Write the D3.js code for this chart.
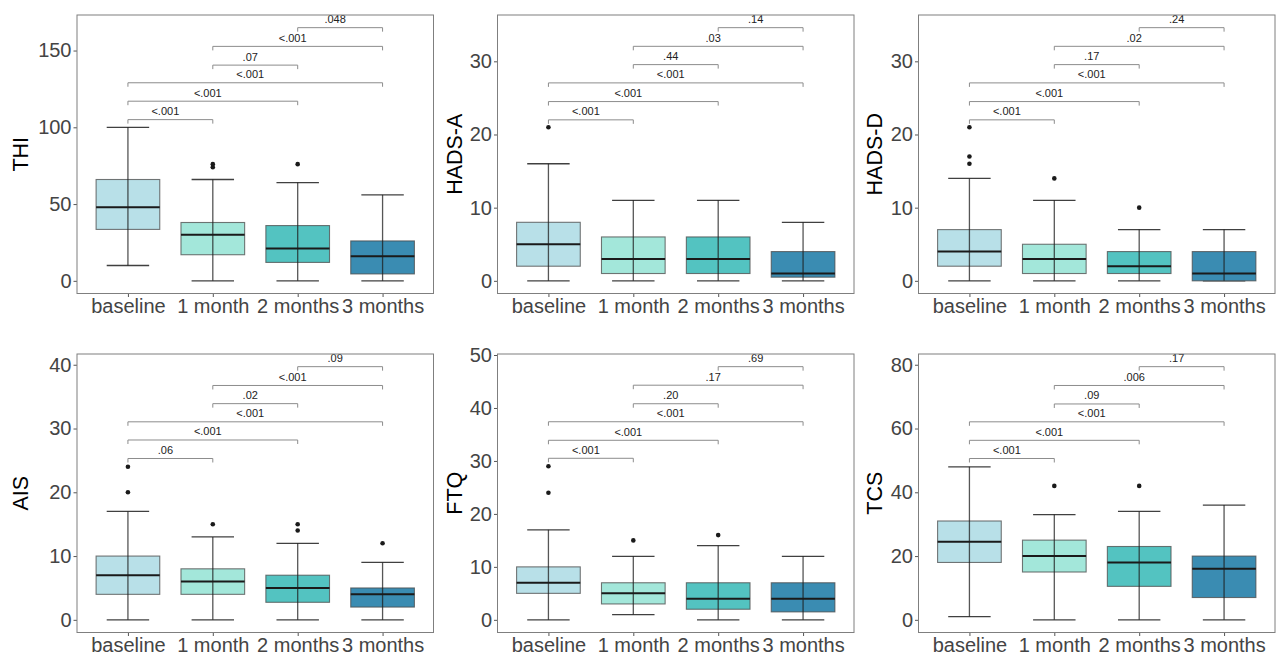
<!DOCTYPE html>
<html>
<head>
<meta charset="utf-8">
<script src="https://cdn.jsdelivr.net/npm/d3@7"></script>
<style>
  html, body { margin: 0; padding: 0; background: #fff; }
  svg { display: block; font-family: "Liberation Sans", Arial, sans-serif; }
</style>
</head>
<body>
<svg id="chart" width="1284" height="655"></svg>
<script>
// ---------------- DATA ----------------
const categories = ["baseline", "1 month", "2 months", "3 months"];
const comparisons = [[0, 1], [0, 2], [0, 3], [1, 2], [1, 3], [2, 3]];

// box stats per category: [lower whisker, Q1, median, Q3, upper whisker]
const thiStats   = [[10, 33.5, 48, 66, 100], [0, 17, 30, 38, 66], [0, 12, 21, 36, 64], [0, 4.5, 16, 26, 56]];
const thiOutliers = [[], [74, 76], [76], []];
const thiPvalues = ["<.001", "<.001", "<.001", ".07", "<.001", ".048"];
const thiBracketY = [105, 117, 129, 140.5, 152.7, 164.9];
const thiTicks = [0, 50, 100, 150];

const hadsAStats = [[0, 2, 5, 8, 16], [0, 1, 3, 6, 11], [0, 1, 3, 6, 11], [0, 0.5, 1, 4, 8]];
const hadsAOutliers = [[21], [], [], []];
const hadsAPvalues = ["<.001", "<.001", "<.001", ".44", ".03", ".14"];
const hadsABracketY = [22, 24.5, 27.05, 29.55, 32.05, 34.6];
const hadsATicks = [0, 10, 20, 30];

const hadsDStats = [[0, 2, 4, 7, 14], [0, 1, 3, 5, 11], [0, 1, 2, 4, 7], [0, 0, 1, 4, 7]];
const hadsDOutliers = [[16, 17, 21], [14], [10], []];
const hadsDPvalues = ["<.001", "<.001", "<.001", ".17", ".02", ".24"];
const hadsDBracketY = [22, 24.5, 27.05, 29.55, 32.05, 34.6];
const hadsDTicks = [0, 10, 20, 30];

const aisStats = [[0, 4, 7, 10, 17], [0, 4, 6, 8, 13], [0, 2.75, 5, 7, 12], [0, 2, 4, 5, 9]];
const aisOutliers = [[20, 24], [15], [14, 15], [12]];
const aisPvalues = [".06", "<.001", "<.001", ".02", "<.001", ".09"];
const aisBracketY = [25.3, 28.2, 31.05, 33.9, 36.75, 39.7];
const aisTicks = [0, 10, 20, 30, 40];

const ftqStats = [[0, 5, 7, 10, 17], [1, 3, 5, 7, 12], [0, 2, 4, 7, 14], [0, 1.5, 4, 7, 12]];
const ftqOutliers = [[24, 29], [15], [16], []];
const ftqPvalues = ["<.001", "<.001", "<.001", ".20", ".17", ".69"];
const ftqBracketY = [30.5, 33.9, 37.4, 40.8, 44.3, 47.8];
const ftqTicks = [0, 10, 20, 30, 40, 50];

const tcsStats = [[1, 18, 24.5, 31, 48], [0, 15, 20, 25, 33], [0, 10.5, 18, 23, 34], [0, 7, 16, 20, 36]];
const tcsOutliers = [[], [42], [42], []];
const tcsPvalues = ["<.001", "<.001", "<.001", ".09", ".006", ".17"];
const tcsBracketY = [50.6, 56.3, 62.1, 67.7, 73.5, 79.4];
const tcsTicks = [0, 20, 40, 60, 80];

const panelTitles = ["THI", "HADS-A", "HADS-D", "AIS", "FTQ", "TCS"];

// ---------------- STYLE / LAYOUT ----------------
const fillColors = ["#b8e0e8", "#a3e7da", "#53c3c1", "#3a8cb2"];
const colLefts = [77, 497.5, 918.5];
const titleOffset = [49, 35.5, 36.5];
const panelW = 356.5;
const rowTops = [15, 354];
const panelH = 278.5;

const panels = [
  { title: panelTitles[0], stats: thiStats, out: thiOutliers, p: thiPvalues, by: thiBracketY, ticks: thiTicks },
  { title: panelTitles[1], stats: hadsAStats, out: hadsAOutliers, p: hadsAPvalues, by: hadsABracketY, ticks: hadsATicks },
  { title: panelTitles[2], stats: hadsDStats, out: hadsDOutliers, p: hadsDPvalues, by: hadsDBracketY, ticks: hadsDTicks },
  { title: panelTitles[3], stats: aisStats, out: aisOutliers, p: aisPvalues, by: aisBracketY, ticks: aisTicks },
  { title: panelTitles[4], stats: ftqStats, out: ftqOutliers, p: ftqPvalues, by: ftqBracketY, ticks: ftqTicks },
  { title: panelTitles[5], stats: tcsStats, out: tcsOutliers, p: tcsPvalues, by: tcsBracketY, ticks: tcsTicks },
];

const svg = d3.select("#chart");

panels.forEach((pd, i) => {
  const col = i % 3, row = Math.floor(i / 3);
  const left = colLefts[col], top = rowTops[row];
  const g = svg.append("g").attr("transform", `translate(${left},${top})`);

  // y domain like ggplot: data range expanded 5%
  const allVals = [...pd.stats.flat(), ...pd.out.flat(), ...pd.by];
  const lo = Math.min(0, d3.min(allVals)), hi = d3.max(allVals);
  const pad = (hi - lo) * 0.05;
  const y = d3.scaleLinear().domain([lo - pad, hi + pad]).range([panelH, 0]);

  // x: 4 categories, 0.6 expansion each side
  const x = d3.scalePoint().domain(categories).range([0, panelW]).padding(0.6);
  const step = x.step();
  const boxW = step * 0.75, capW = step * 0.5;

  // axes
  const yAxis = d3.axisLeft(y).tickValues(pd.ticks).tickSize(3.5).tickPadding(2);
  const ya = g.append("g").call(yAxis);
  ya.select(".domain").remove();
  ya.selectAll(".tick line").attr("stroke", "#555");
  ya.selectAll(".tick text").attr("fill", "#444").style("font-size", "20px")
    .attr("font-family", "'Liberation Sans', Arial, sans-serif");

  const xAxis = d3.axisBottom(x).tickSize(3.5).tickPadding(1.5);
  const xa = g.append("g").attr("transform", `translate(0,${panelH})`).call(xAxis);
  xa.select(".domain").remove();
  xa.selectAll(".tick line").attr("stroke", "#555");
  xa.selectAll(".tick text").attr("fill", "#444").style("font-size", "20px")
    .attr("font-family", "'Liberation Sans', Arial, sans-serif");

  // boxes
  categories.forEach((c, k) => {
    const [wl, q1, med, q3, wh] = pd.stats[k];
    const cx = x(c);
    g.append("line").attr("x1", cx - capW / 2).attr("x2", cx + capW / 2)
      .attr("y1", y(wh)).attr("y2", y(wh)).attr("stroke", "#1e1e1e").attr("stroke-opacity", 0.85).attr("stroke-width", 1.3);
    g.append("line").attr("x1", cx - capW / 2).attr("x2", cx + capW / 2)
      .attr("y1", y(wl)).attr("y2", y(wl)).attr("stroke", "#1e1e1e").attr("stroke-opacity", 0.85).attr("stroke-width", 1.3);
    g.append("rect").attr("x", cx - boxW / 2).attr("width", boxW)
      .attr("y", y(q3)).attr("height", y(q1) - y(q3))
      .attr("fill", fillColors[k]).attr("stroke", "#4a4a4a").attr("stroke-opacity", 0.75).attr("stroke-width", 1.1);
    g.append("line").attr("x1", cx).attr("x2", cx).attr("y1", y(wh)).attr("y2", y(wl))
      .attr("stroke", "#1e1e1e").attr("stroke-opacity", 0.75).attr("stroke-width", 1.3);
    g.append("line").attr("x1", cx - boxW / 2).attr("x2", cx + boxW / 2)
      .attr("y1", y(med)).attr("y2", y(med)).attr("stroke", "#1a1a1a").attr("stroke-width", 2);
    pd.out[k].forEach(v => {
      g.append("circle").attr("cx", cx).attr("cy", y(v)).attr("r", 2.3).attr("fill", "#1a1a1a");
    });
  });

  // significance brackets
  comparisons.forEach(([a, b], j) => {
    const x1 = x(categories[a]), x2 = x(categories[b]);
    const yy = y(pd.by[j]);
    const tip = 4;
    g.append("path")
      .attr("d", `M${x1},${yy + tip}V${yy}H${x2}V${yy + tip}`)
      .attr("fill", "none").attr("stroke", "#8c8c8c").attr("stroke-width", 1);
    g.append("text").attr("x", (x1 + x2) / 2 - 5).attr("y", yy - 4.5)
      .attr("text-anchor", "middle").attr("fill", "#222").style("font-size", "11px")
      .text(pd.p[j]);
  });

  // panel border
  g.append("rect").attr("x", 0).attr("y", 0).attr("width", panelW).attr("height", panelH)
    .attr("fill", "none").attr("stroke", "#7f7f7f").attr("stroke-width", 1);

  // y title
  g.append("text")
    .attr("transform", `translate(${-titleOffset[col]},${panelH / 2}) rotate(-90)`)
    .attr("text-anchor", "middle").attr("fill", "#000").style("font-size", "21.5px")
    .text(pd.title);
});
</script>
</body>
</html>
